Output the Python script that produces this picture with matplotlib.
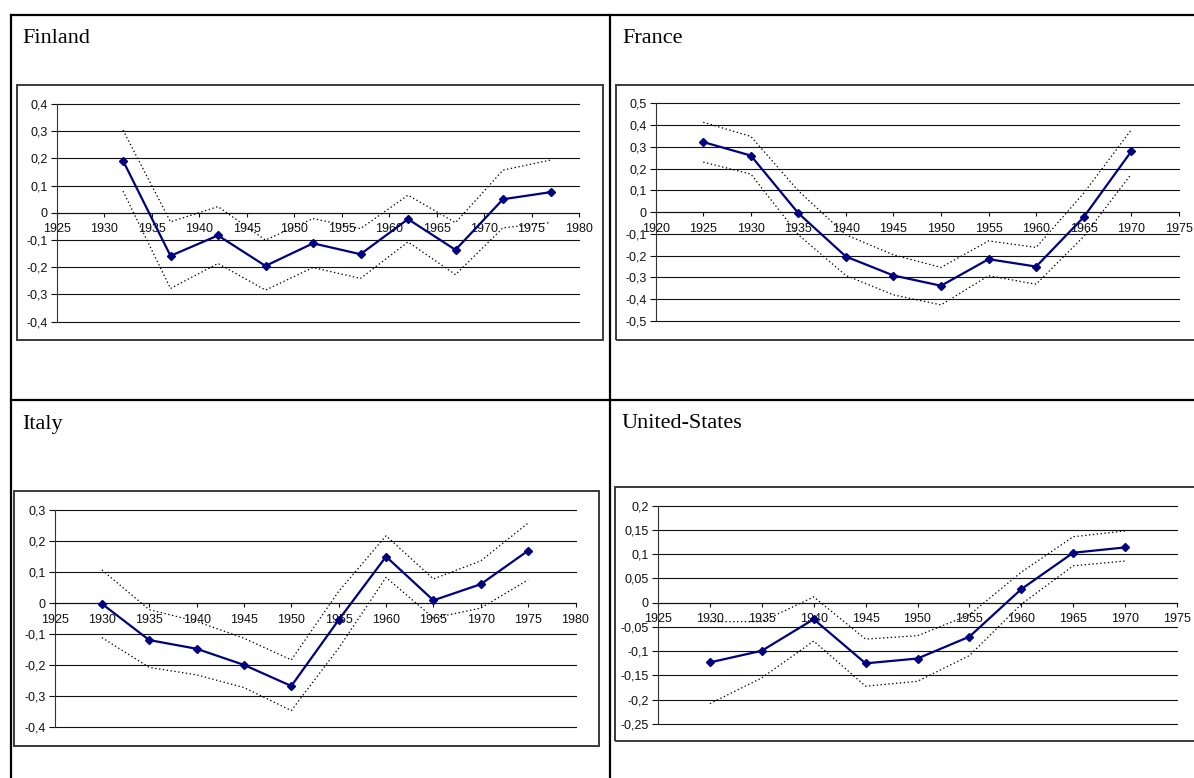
import numpy as np
import matplotlib
matplotlib.use("Agg")
import matplotlib.pyplot as plt
from matplotlib.patches import Rectangle
from matplotlib.lines import Line2D
from matplotlib.ticker import FuncFormatter

plt.rcParams["font.family"] = ["Liberation Sans", "DejaVu Sans"]

# ---------------------------------------------------------------- data
fin_years = [1932, 1937, 1942, 1947, 1952, 1957, 1962, 1967, 1972, 1977]
fin_est = [0.192, -0.158, -0.083, -0.195, -0.112, -0.152, -0.023, -0.136, 0.050, 0.076]
fin_upper = [0.304, -0.033, 0.023, -0.100, -0.021, -0.058, 0.065, -0.036, 0.157, 0.194]
fin_lower = [0.080, -0.278, -0.186, -0.284, -0.201, -0.241, -0.107, -0.227, -0.055, -0.036]
fin_xticks = [1925, 1930, 1935, 1940, 1945, 1950, 1955, 1960, 1965, 1970, 1975, 1980]
fin_yticks = [-0.4, -0.3, -0.2, -0.1, 0, 0.1, 0.2, 0.3, 0.4]

fra_years = [1925, 1930, 1935, 1940, 1945, 1950, 1955, 1960, 1965, 1970]
fra_est = [0.322, 0.260, -0.005, -0.204, -0.291, -0.338, -0.216, -0.250, -0.023, 0.279]
fra_upper = [0.413, 0.348, 0.098, -0.104, -0.196, -0.254, -0.132, -0.162, 0.087, 0.378]
fra_lower = [0.230, 0.175, -0.104, -0.291, -0.380, -0.426, -0.292, -0.331, -0.112, 0.175]
fra_xticks = [1920, 1925, 1930, 1935, 1940, 1945, 1950, 1955, 1960, 1965, 1970, 1975]
fra_yticks = [-0.5, -0.4, -0.3, -0.2, -0.1, 0, 0.1, 0.2, 0.3, 0.4, 0.5]

ita_years = [1930, 1935, 1940, 1945, 1950, 1955, 1960, 1965, 1970, 1975]
ita_est = [-0.002, -0.119, -0.147, -0.199, -0.267, -0.054, 0.150, 0.009, 0.061, 0.169]
ita_upper = [0.107, -0.021, -0.059, -0.113, -0.183, 0.038, 0.217, 0.078, 0.136, 0.258]
ita_lower = [-0.111, -0.207, -0.231, -0.272, -0.346, -0.145, 0.083, -0.048, -0.016, 0.075]
ita_xticks = [1925, 1930, 1935, 1940, 1945, 1950, 1955, 1960, 1965, 1970, 1975, 1980]
ita_yticks = [-0.4, -0.3, -0.2, -0.1, 0, 0.1, 0.2, 0.3]

usa_years = [1930, 1935, 1940, 1945, 1950, 1955, 1960, 1965, 1970]
usa_est = [-0.123, -0.099, -0.034, -0.125, -0.115, -0.070, 0.028, 0.103, 0.114]
usa_upper = [-0.039, -0.039, 0.012, -0.075, -0.068, -0.025, 0.063, 0.136, 0.148]
usa_lower = [-0.208, -0.155, -0.079, -0.172, -0.162, -0.109, -0.003, 0.076, 0.086]
usa_xticks = [1925, 1930, 1935, 1940, 1945, 1950, 1955, 1960, 1965, 1970, 1975]
usa_yticks = [-0.25, -0.2, -0.15, -0.1, -0.05, 0, 0.05, 0.1, 0.15, 0.2]

# ---------------------------------------------------------------- figure
W, H, DPI = 1194, 778, 100
fig = plt.figure(figsize=(W / DPI, H / DPI), dpi=DPI)
fig.patch.set_facecolor("white")


def box(x0, y0, x1, y1):
    """Pixel box (top-left origin) -> figure-fraction rect."""
    return [x0 / W, 1 - y1 / H, (x1 - x0) / W, (y1 - y0) / H]


def comma_fmt(v, _pos=None):
    v = round(v, 4)
    if abs(v) < 1e-9:
        return "0"
    return f"{v:g}".replace(".", ",")


def panel(rect, years, est, upper, lower, xticks, yticks):
    ax = fig.add_axes(rect)
    ax.set_facecolor("none")
    ax.set_xlim(xticks[0], xticks[-1])
    ax.set_ylim(yticks[0], yticks[-1])
    ax.set_xticks(xticks)
    ax.set_yticks(yticks)
    ax.xaxis.set_major_formatter(FuncFormatter(lambda v, p: f"{int(round(v))}"))
    ax.yaxis.set_major_formatter(FuncFormatter(comma_fmt))

    # horizontal gridlines across the plot area
    for yv in yticks:
        ax.axhline(yv, color="#111111", lw=0.8, zorder=1, clip_on=False)

    for s in ("top", "right"):
        ax.spines[s].set_visible(False)
    ax.spines["bottom"].set_position(("data", 0))
    ax.spines["bottom"].set_color("#111111")
    ax.spines["bottom"].set_linewidth(0.8)
    ax.spines["left"].set_color("#333333")
    ax.spines["left"].set_linewidth(0.8)
    ax.tick_params(axis="x", direction="out", length=3, width=0.8,
                   pad=4.5, colors="#111111", labelsize=9)
    ax.tick_params(axis="y", direction="out", length=4, width=0.8,
                   pad=2.5, colors="#111111", labelsize=9)

    dots = (0, (1.1, 2.0))
    ax.plot(years, upper, color="black", lw=0.9, linestyle=dots, zorder=3,
            clip_on=False)
    ax.plot(years, lower, color="black", lw=0.9, linestyle=dots, zorder=3,
            clip_on=False)
    ax.plot(years, est, color="#000080", lw=1.6, marker="D",
            markersize=4.2, markerfacecolor="#000080",
            markeredgecolor="#000080", zorder=4, clip_on=False)
    return ax


# chart frames (embedded chart objects)
frame_kw = dict(transform=fig.transFigure, fill=False, ec="#3a3a3a", lw=1.4)
for x0, y0, x1, y1 in [(17, 85, 602.5, 340), (616, 85, 1210, 340),
                       (14, 491, 598.5, 746), (615, 487, 1210, 741)]:
    r = box(x0, y0, x1, y1)
    fig.add_artist(Rectangle((r[0], r[1]), r[2], r[3], **frame_kw))

panel(box(56.5, 104, 579, 321.7), fin_years, fin_est, fin_upper, fin_lower,
      fin_xticks, fin_yticks)
panel(box(655.7, 103.3, 1178.8, 321), fra_years, fra_est, fra_upper, fra_lower,
      fra_xticks, fra_yticks)
panel(box(54.5, 510, 575.5, 727.3), ita_years, ita_est, ita_upper, ita_lower,
      ita_xticks, ita_yticks)
panel(box(658, 505.7, 1177, 724), usa_years, usa_est, usa_upper, usa_lower,
      usa_xticks, usa_yticks)

# table grid lines
line_kw = dict(transform=fig.transFigure, color="black", lw=1.6)
for (xa, ya), (xb, yb) in [((11, 15), (1200, 15)),
                           ((11, 15), (11, 790)),
                           ((609.5, 15), (609.5, 790)),
                           ((11, 399.5), (1200, 399.5))]:
    fig.add_artist(Line2D([xa / W, xb / W], [1 - ya / H, 1 - yb / H], **line_kw))

# country captions
cap_kw = dict(family="Liberation Serif", fontsize=16, va="baseline", ha="left")
fig.text(22 / W, 1 - 43.3 / H, "Finland", **cap_kw)
fig.text(622 / W, 1 - 43.3 / H, "France", **cap_kw)
fig.text(22 / W, 1 - 428.5 / H, "Italy", **cap_kw)
fig.text(622 / W, 1 - 428.5 / H, "United-States", **cap_kw)

fig.savefig("out.png", dpi=DPI, facecolor="white")
